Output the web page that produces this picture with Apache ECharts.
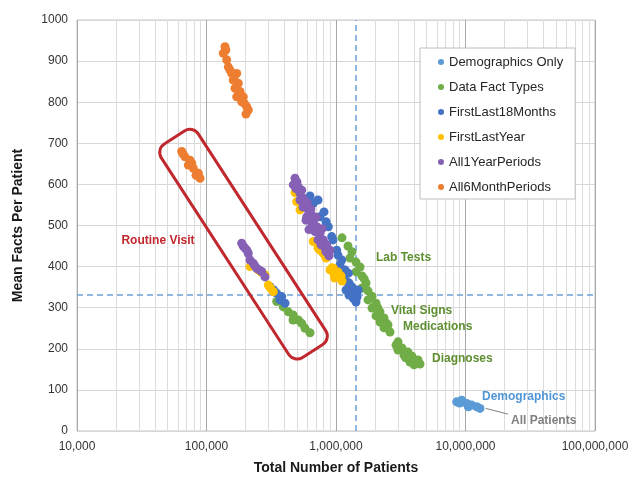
<!DOCTYPE html>
<html><head><meta charset="utf-8">
<script src="https://cdn.jsdelivr.net/npm/echarts@6/dist/echarts.min.js"></script>
<style>html,body{margin:0;padding:0;background:#fff;overflow:hidden}#c{width:635px;height:477px}</style>
</head><body><div id="c"></div>
<script>
// ---------- data ----------
const seriesNames = ['Demographics Only','Data Fact Types','FirstLast18Months','FirstLastYear','All1YearPeriods','All6MonthPeriods'];

const demographicsOnly = [[8551000,71],[9348000,75],[10220000,67],[11170000,63],[12210000,59],[12940000,55],[10510000,59],[9000000,68]];

const dataFactTypesMain = [[1113000,470],[1238000,450],[1329000,436],[1283000,421],[1427000,411],[1532000,399],[1427000,387],[1588000,377],[1705000,360],[1588000,348],[1767000,341],[1897000,328],[1767000,319],[2037000,311],[1897000,299],[2187000,290],[2037000,280],[2348000,275],[2187000,265],[2520000,258],[2348000,251],[2612000,241],[3011000,217],[3233000,202],[3597000,192],[3863000,182],[4298000,173],[3350000,185],[3727000,168],[4453000,163],[4003000,161],[3011000,197],[2906000,209],[1650000,370],[2100000,300],[2450000,262],[3450000,178]];
const dataFactTypesRoutine = [[348400,315],[391800,302],[428200,290],[468000,282],[511600,270],[543500,262],[576300,250],[630000,239],[465600,270]];

const firstLast18Main = [[668000,554],[752300,521],[872000,497],[926400,473],[1012000,440],[1107000,416],[1174000,392],[1245000,384],[1322000,351],[1402000,339],[1445000,327],[1360000,323],[1486000,343],[1260000,360],[630000,572],[726000,562],[808000,533],[837000,509],[948000,465],[1036000,428],[1074000,404],[1153000,367],[1216000,363],[1306000,350],[1260000,331],[1453000,326],[1427000,314],[1196000,343]];
const firstLast18Routine = [[309300,351],[348400,335],[380800,327],[403800,311],[369500,319],[330000,343]];

const firstLastYearMain = [[497200,558],[527200,538],[668000,461],[726000,445],[798000,432],[953300,396],[1012000,384],[1074000,372],[982000,380],[898900,392],[752300,440],[837000,421],[931000,397],[1036000,387],[977000,372],[1093000,377],[1113000,365],[965000,382],[482500,580]];
const firstLastYearRoutine = [[216700,400],[249900,392],[283000,380],[300100,355],[328000,339],[265000,386],[312000,348]];

const all1YearMain = [[482500,615],[468000,599],[511600,594],[527200,578],[559000,566],[576300,550],[611100,538],[649300,526],[593900,521],[668000,509],[709600,497],[688400,485],[752300,481],[798000,465],[847300,453],[898900,440],[822000,445],[499700,606],[527200,562],[556100,545],[544000,586],[586600,513],[618600,490],[652700,506],[726000,465],[765800,453],[883000,426],[837000,436],[490000,590],[540000,560],[600000,555],[640000,540],[700000,520],[780000,492]];
const all1YearRoutine = [[187000,457],[198300,445],[210300,432],[216700,416],[229800,408],[244100,396],[266800,388],[283000,375],[192000,450],[205000,440],[236000,402],[255000,392]];

const all6MonthMain = [[138900,935],[134800,919],[143200,903],[147300,886],[156500,870],[171100,870],[161000,854],[176000,846],[166000,834],[181400,826],[171100,813],[192400,813],[187000,801],[204400,789],[210300,781],[201800,771],[141000,927],[152000,878],[164000,862],[178000,820],[196000,797]];
const all6MonthRoutine = [[64340,680],[68230,667],[74600,659],[72370,647],[79100,639],[86460,627],[89100,615],[66000,674],[83000,622],[77000,651]];

const xMinorTicks = [20000,30000,40000,50000,60000,70000,80000,90000,200000,300000,400000,500000,600000,700000,800000,900000,2000000,3000000,4000000,5000000,6000000,7000000,8000000,9000000,20000000,30000000,40000000,50000000,60000000,70000000,80000000,90000000];
const refLineX = 1419000;
const refLineY = 331;

const annotationTexts = ['Lab Tests','Vital Signs','Medications','Diagnoses','Demographics','All Patients'];
const annotationX = [2037000,2659000,3292000,5510000,13410000,22460000];
const annotationY = [421,292,253,175,83,24];
const routineText = 'Routine Visit';
const routinePoint = [42200,463];
const arrowFrom = [21290000,41];
const arrowTo = [14320000,55];
const routineBoxAxis = [[58680,706],[635600,203]];

// ---------- styles ----------
const colors = ['#5b9bd5','#70ad47','#4472c4','#ffc000','#8660b4','#ed7d31'];
const annotationColors = ['#5e8f30','#5e8f30','#5e8f30','#5e8f30','#4f95d6','#7f7f7f'];
const FONT = '"Liberation Sans", Arial, sans-serif';

const seriesData = [
  demographicsOnly,
  dataFactTypesMain.concat(dataFactTypesRoutine),
  firstLast18Main.concat(firstLast18Routine),
  firstLastYearMain.concat(firstLastYearRoutine),
  all1YearMain.concat(all1YearRoutine),
  all6MonthMain.concat(all6MonthRoutine)
];

const chart = echarts.init(document.getElementById('c'), null, {renderer:'canvas', width:635, height:477});

const scatterSeries = seriesNames.map((n,i)=>({
  name:n, type:'scatter', data:seriesData[i], symbol:'circle', symbolSize:9,
  itemStyle:{color:colors[i], opacity:1}, z:5+i, animation:false
}));

const helperSeries = [{
  name:'_grid', type:'scatter', data:[], z:1, silent:true, animation:false,
  markLine:{silent:true, symbol:['none','none'], animation:false,
    label:{show:false}, lineStyle:{color:'#dcdcdc', type:'solid', width:1},
    data:xMinorTicks.map(v=>({xAxis:v}))}
},{
  name:'_ref', type:'scatter', data:[], z:3, silent:true, animation:false,
  markLine:{silent:true, symbol:['none','none'], animation:false,
    label:{show:false}, lineStyle:{color:'#6fa0d8', type:[6,4], width:1.5},
    data:[{xAxis:refLineX},{yAxis:refLineY}]}
},{
  name:'_ann', type:'scatter', data:[], z:20, silent:true, animation:false,
  markPoint:{silent:true, animation:false, symbol:'circle', symbolSize:0,
    data: annotationTexts.map((t,i)=>({coord:[annotationX[i],annotationY[i]],
      label:{show:true, formatter:t, position:'right', distance:0, color:annotationColors[i],
        fontFamily:FONT, fontWeight:'bold', fontSize:12}})).concat([{
      coord:routinePoint, label:{show:true, formatter:routineText, position:'inside',
        color:'#c1272d', fontFamily:FONT, fontWeight:'bold', fontSize:12}}])
  },
  markLine:{silent:true, animation:false, symbol:['none','arrow'], symbolSize:[0,7],
    label:{show:false}, lineStyle:{color:'#7f7f7f', type:'solid', width:1},
    data:[[{coord:arrowFrom},{coord:arrowTo}]]}
}];

chart.setOption({
  animation:false,
  textStyle:{fontFamily:FONT},
  grid:{left:77, right:40, top:20, bottom:46, outerBoundsMode:'none', containLabel:false,
    show:true, borderColor:'#c4c4c4', borderWidth:1, backgroundColor:'transparent'},
  legend:{
    data:seriesNames, orient:'vertical', left:420, top:48, z:100,
    backgroundColor:'#fff', borderColor:'#bfbfbf', borderWidth:1,
    padding:[7,12,5,18], itemGap:11, itemWidth:6, itemHeight:6, icon:'circle',
    textStyle:{fontFamily:FONT, fontSize:13, color:'#262626', width:114, lineHeight:14}
  },
  xAxis:{
    type:'log', logBase:10, min:10000, max:100000000,
    name:'Total Number of Patients', nameLocation:'middle', nameGap:30,
    nameTextStyle:{fontFamily:FONT, fontWeight:'bold', fontSize:14, color:'#1a1a1a'},
    axisLine:{show:false}, axisTick:{show:false},
    axisLabel:{fontFamily:FONT, fontSize:12, color:'#333', margin:10,
      formatter:v=>Math.round(v).toLocaleString('en-US')},
    splitLine:{show:true, lineStyle:{color:'#a8a8a8', width:1}}
  },
  yAxis:{
    type:'value', min:0, max:1000, interval:100,
    name:'Mean Facts Per Patient', nameLocation:'middle', nameGap:52,
    nameTextStyle:{fontFamily:FONT, fontWeight:'bold', fontSize:14, color:'#1a1a1a'},
    axisLine:{show:false}, axisTick:{show:false},
    axisLabel:{fontFamily:FONT, fontSize:12, color:'#333', margin:9, formatter:v=>String(v)},
    splitLine:{show:true, lineStyle:{color:'#d6d6d6', width:1}}
  },
  series: helperSeries.concat(scatterSeries)
});

function drawBox(){
  const p1 = chart.convertToPixel({gridIndex:0}, routineBoxAxis[0]);
  const p2 = chart.convertToPixel({gridIndex:0}, routineBoxAxis[1]);
  const cx=(p1[0]+p2[0])/2, cy=(p1[1]+p2[1])/2;
  const dx=p2[0]-p1[0], dy=p2[1]-p1[1];
  const L=Math.hypot(dx,dy)+8, W=44;
  const ang=Math.atan2(dy,dx);
  chart.setOption({graphic:[{type:'rect', x:cx, y:cy, rotation:-ang, silent:true,
    shape:{x:-L/2, y:-W/2, width:L, height:W, r:10},
    style:{fill:'none', stroke:'#c0282d', lineWidth:3}, z:30}]});
}
drawBox();
</script>
</body></html>
